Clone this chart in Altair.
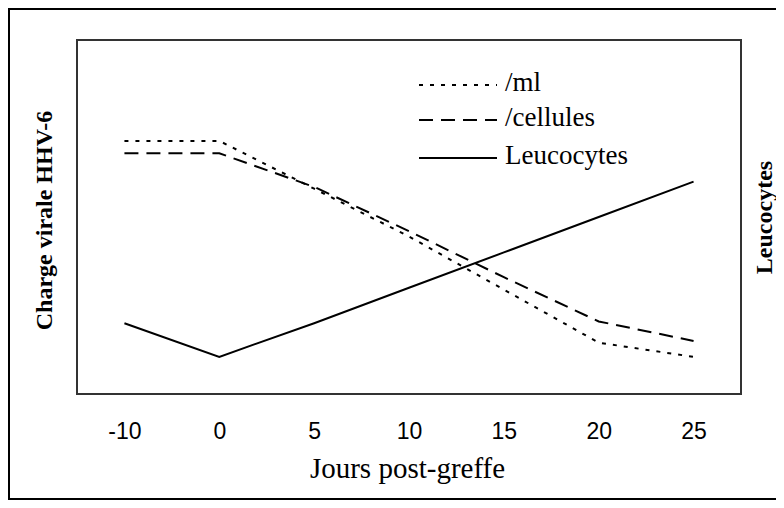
import altair as alt
import pandas as pd

# ---- data (y units are arbitrary) ----
days = ["-10", "0", "5", "10", "15", "20", "25"]
per_ml = [7.15, 7.15, 5.8, 4.45, 2.95, 1.45, 1.05]
per_cell = [6.8, 6.8, 5.85, 4.6, 3.3, 2.05, 1.5]
leucocytes = [2.0, 1.05, 2.0, 3.0, 4.0, 5.0, 6.0]
legend_labels = ["/ml", "/cellules", "Leucocytes"]
legend_dashes = [[4, 7], [14, 8], [1, 0]]

W, H = 664, 354
PL, PT = 69, 32
SERIF = "'Liberation Serif', 'Times New Roman', Times, serif"
SANS = "'Liberation Sans', Arial, sans-serif"

viral = pd.DataFrame({
    "jour": days * 2,
    "valeur": per_ml + per_cell,
    "serie": [legend_labels[0]] * len(days) + [legend_labels[1]] * len(days),
})
leu = pd.DataFrame({"jour": days, "valeur": leucocytes})

x_enc = alt.X(
    "jour:O", sort=days,
    scale=alt.Scale(type="point", padding=0.5),
    axis=alt.Axis(
        title="Jours post-greffe", labelAngle=0, ticks=False, tickSize=0,
        domain=False, grid=False, labelPadding=37, labelBaseline="middle",
        labelFont=SANS, labelFontSize=23, labelColor="black",
        titleFont=SERIF, titleFontSize=29, titleFontWeight="normal",
        titleColor="black", titleX=W / 2 - 2, titleY=74,
        titleAlign="center", titleBaseline="middle",
    ),
)

viral_lines = alt.Chart(viral).mark_line(color="black", strokeWidth=2).encode(
    x=x_enc,
    y=alt.Y(
        "valeur:Q", scale=alt.Scale(domain=[0, 10]),
        axis=alt.Axis(
            title="Charge virale HHV-6", labels=False, ticks=False,
            domain=False, grid=False, titleX=-33, titleY=H / 2 + 3,
            titleAngle=270, titleAlign="center", titleBaseline="middle",
            titleFont=SERIF, titleFontWeight="bold", titleFontSize=24,
            titleColor="black",
        ),
    ),
    strokeDash=alt.StrokeDash(
        "serie:N",
        scale=alt.Scale(domain=legend_labels[:2], range=legend_dashes[:2]),
        legend=None,
    ),
    detail="serie:N",
)

leu_line = alt.Chart(leu).mark_line(color="black", strokeWidth=2).encode(
    x=x_enc,
    y=alt.Y(
        "valeur:Q", scale=alt.Scale(domain=[0, 10]),
        axis=alt.Axis(
            orient="right", title="Leucocytes", labels=False, ticks=False,
            domain=False, grid=False, titleX=23, titleY=H / 2,
            titleAngle=270, titleAlign="center", titleBaseline="middle",
            titleFont=SERIF, titleFontWeight="bold", titleFontSize=24,
            titleColor="black",
        ),
    ),
)

one = pd.DataFrame({"k": [0]})

frame = alt.Chart(one).mark_rect(
    filled=False, stroke="black", strokeWidth=2
).encode(
    x=alt.value(-68), x2=alt.value(720), y=alt.value(-31), y2=alt.value(459)
)

legend_layers = []
row_y = [45, 80, 118]
for lab, dash, ry in zip(legend_labels, legend_dashes, row_y):
    legend_layers.append(
        alt.Chart(one).mark_rule(color="black", strokeWidth=2, strokeDash=dash).encode(
            x=alt.value(342), x2=alt.value(420), y=alt.value(ry)
        )
    )
    legend_layers.append(
        alt.Chart(one).mark_text(
            align="left", baseline="middle", font=SERIF, fontSize=27, color="black"
        ).encode(x=alt.value(428), y=alt.value(ry - 2), text=alt.value(lab))
    )

chart = alt.layer(frame, viral_lines, leu_line, *legend_layers).resolve_scale(
    y="independent", strokeDash="independent"
).properties(
    width=W, height=H,
    padding={"left": PL, "top": PT, "right": 768 - PL - W, "bottom": 492 - PT - H},
    autosize=alt.AutoSizeParams(type="none"),
    background="white",
).configure_view(stroke="#333333", strokeWidth=2)

chart.save("out.html", embed_options={"renderer": "svg", "actions": False})
